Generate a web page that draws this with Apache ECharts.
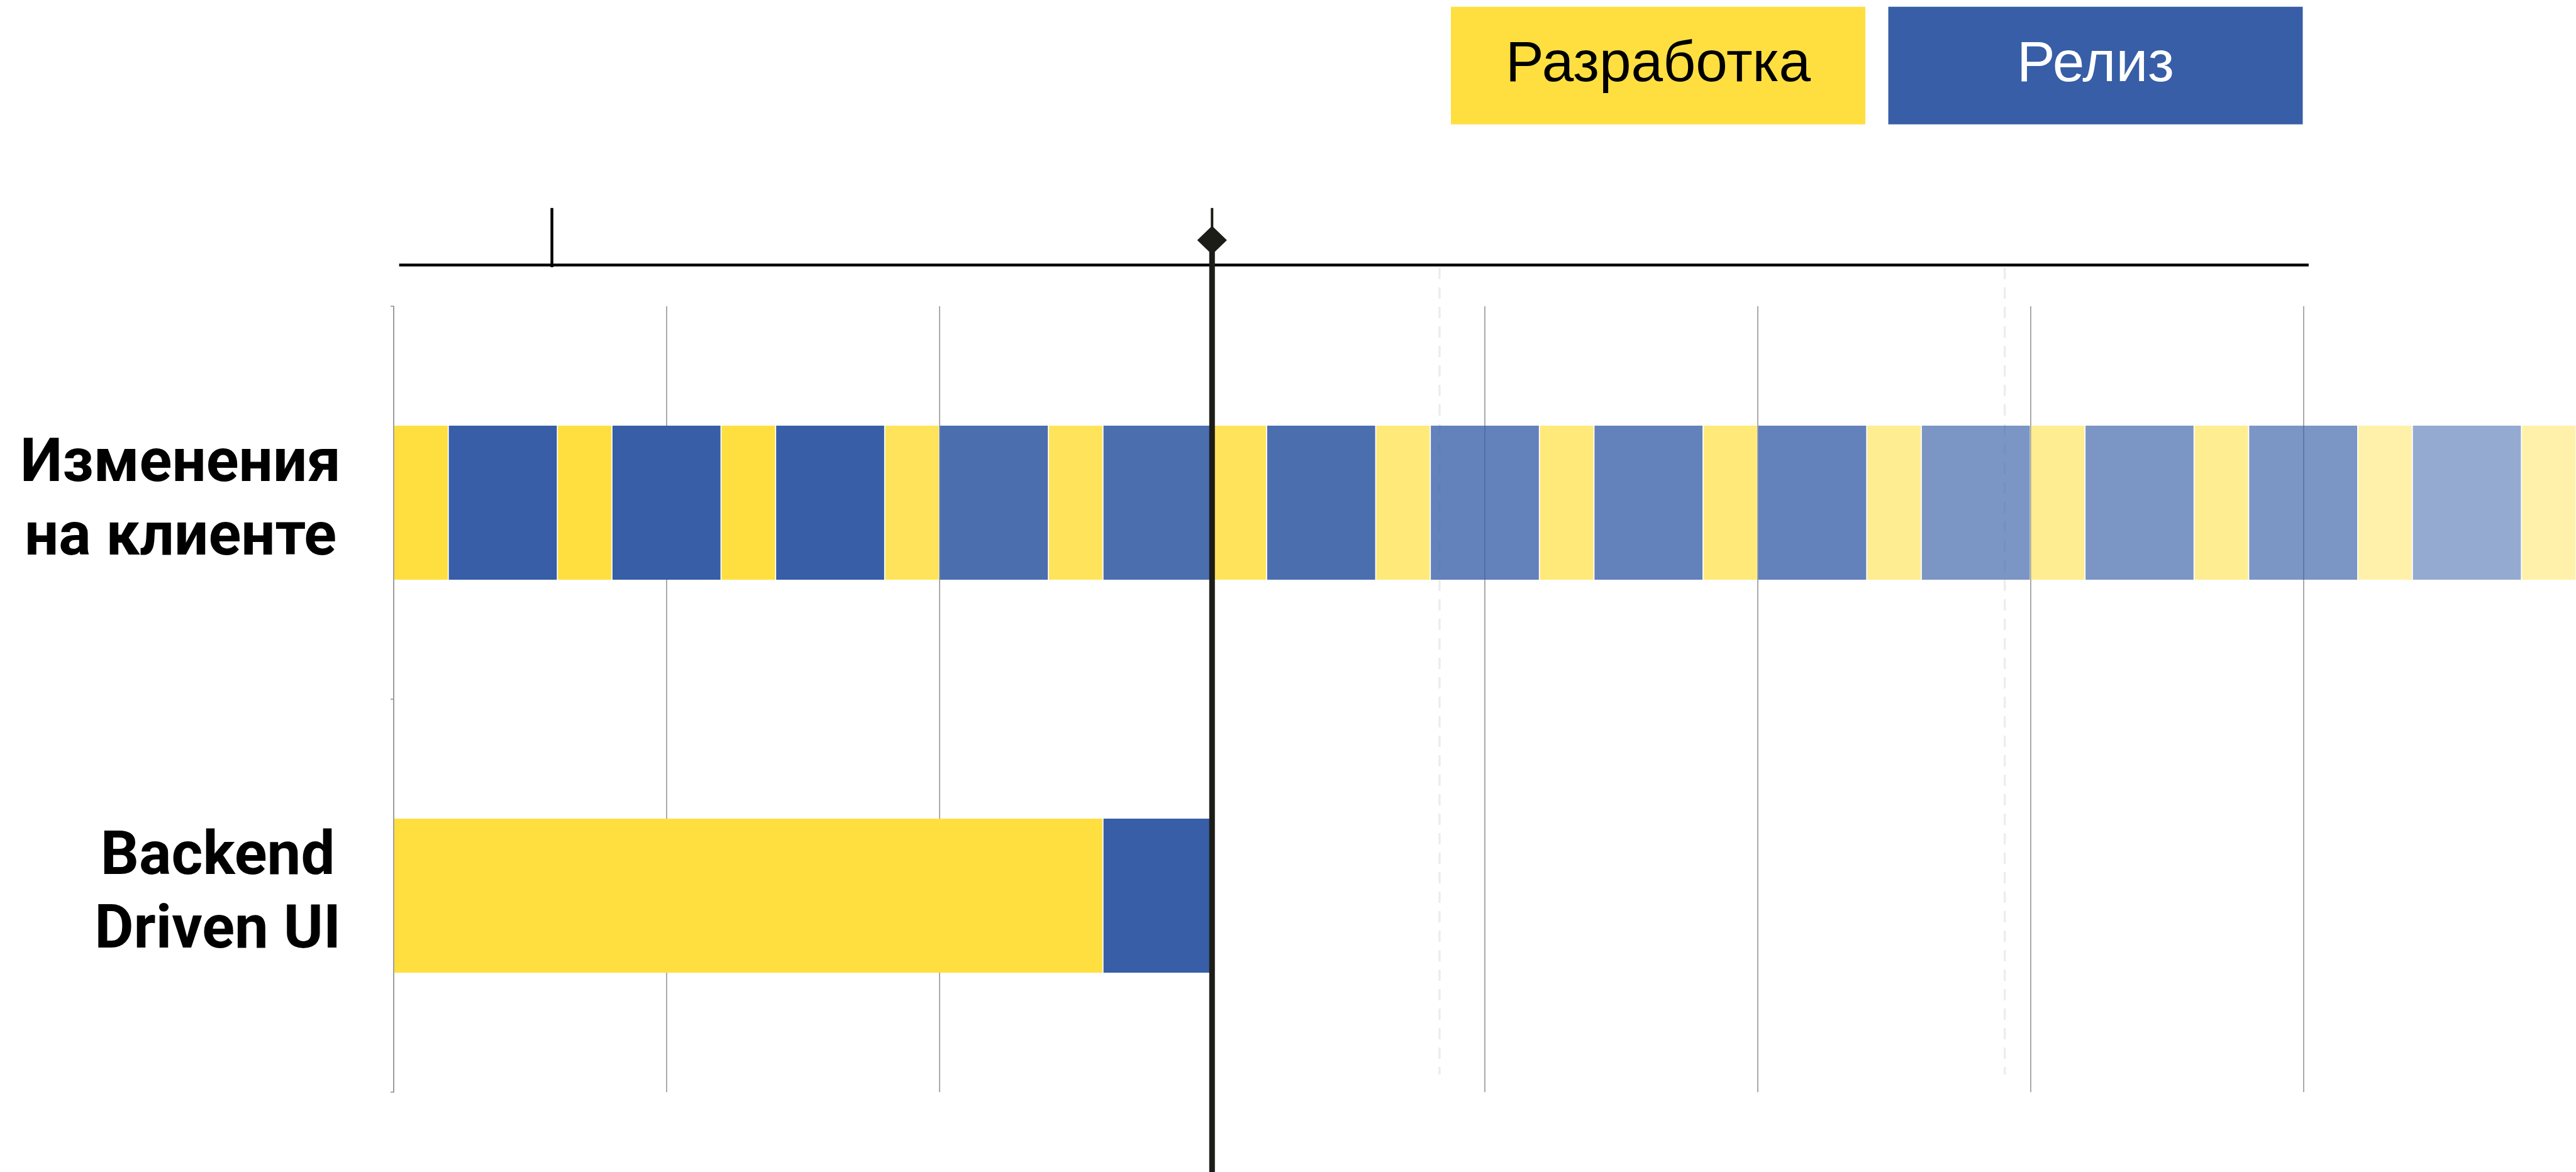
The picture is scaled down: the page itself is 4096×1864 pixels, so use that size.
<!DOCTYPE html>
<html>
<head>
<meta charset="utf-8">
<script src="https://cdn.jsdelivr.net/npm/echarts@6/dist/echarts.min.js"></script>
<style>
  html, body { margin: 0; padding: 0; background: #ffffff; }
  #chart { width: 4096px; height: 1864px; }
</style>
</head>
<body>
<div id="chart"></div>
<script>
// ---------- DATA ----------
const categories = ['Изменения\nна клиенте', 'Backend\nDriven UI'];
const seriesNames = ['Разработка', 'Релиз'];

// "Изменения на клиенте": development / release phases (weeks)
const clientDevStart = [0, 3, 6, 9, 12, 15, 18, 21, 24, 27, 30, 33, 36, 39];
const clientDevEnd   = [1, 4, 7, 10, 13, 16, 19, 22, 25, 28, 31, 34, 37, 40];
const clientDevFade  = [1, 1, 1, 0.86, 0.86, 0.86, 0.7, 0.7, 0.7, 0.57, 0.57, 0.57, 0.45, 0.45];
const clientRelStart = [1, 4, 7, 10, 13, 16, 19, 22, 25, 28, 31, 34, 37];
const clientRelEnd   = [3, 6, 9, 12, 15, 18, 21, 24, 27, 30, 33, 36, 39];
const clientRelFade  = [1, 1, 1, 0.9, 0.9, 0.9, 0.78, 0.78, 0.78, 0.66, 0.66, 0.66, 0.53];

// "Backend Driven UI"
const backendDevStart = [0];
const backendDevEnd   = [13];
const backendRelStart = [13];
const backendRelEnd   = [15];

// time scale decorations
const xMin = 0, xMax = 40, xInterval = 5;
const timelineSpan = [0.1, 35.1];
const timelineTicks = [2.9];
const nowMark = [15];
const dashedMarks = [19.17, 29.53];

// ---------- BUILD ----------
const devData = clientDevStart.map((s, i) => [0, s, clientDevEnd[i], clientDevFade[i]])
  .concat(backendDevStart.map((s, i) => [1, s, backendDevEnd[i], 1]));
const relData = clientRelStart.map((s, i) => [0, s, clientRelEnd[i], clientRelFade[i]])
  .concat(backendRelStart.map((s, i) => [1, s, backendRelEnd[i], 1]));

const YELLOW = '#FFDF40';
const BLUE = '#375EA6';
const GRID_GRAY = '#9b9b9b';
const DARK = '#1c1c18';

function barRenderer(color) {
  return function (params, api) {
    const row = api.value(0);
    const p0 = api.coord([api.value(1), row]);
    const p1 = api.coord([api.value(2), row]);
    const h = api.size([0, 1])[1] * 0.392;
    return {
      type: 'rect',
      shape: { x: p0[0] + 0.9, y: p0[1] - h / 2, width: p1[0] - p0[0] - 1.8, height: h },
      style: { fill: color, opacity: api.value(3) }
    };
  };
}

const chart = echarts.init(document.getElementById('chart'), null, { renderer: 'canvas' });

chart.setOption({
  animation: false,
  backgroundColor: '#ffffff',
  legend: {
    left: 2302,
    top: 10.75,
    padding: 0,
    itemWidth: 0,
    itemHeight: 0,
    itemGap: 31.5,
    icon: 'rect',
    selectedMode: false,
    data: seriesNames,
    formatter: function (name) {
      return (name === seriesNames[0] ? '{d|' : '{r|') + name + '}';
    },
    textStyle: {
      rich: {
        d: {
          width: 659, height: 187, lineHeight: 187, align: 'center', verticalAlign: 'middle',
          backgroundColor: YELLOW, color: '#000000',
          fontFamily: 'Liberation Sans', fontSize: 91
        },
        r: {
          width: 659, height: 187, lineHeight: 187, align: 'center', verticalAlign: 'middle',
          backgroundColor: BLUE, color: '#ffffff',
          fontFamily: 'Liberation Sans', fontSize: 91
        }
      }
    }
  },
  grid: { left: 626, top: 487, width: 3470, height: 1250, containLabel: false, outerBoundsMode: 'none' },
  xAxis: {
    type: 'value',
    min: xMin, max: xMax, interval: xInterval,
    axisLine: { show: false },
    axisTick: { show: false },
    axisLabel: { show: false },
    splitLine: { show: true, showMaxLine: false, lineStyle: { color: GRID_GRAY, width: 1.7 } }
  },
  yAxis: {
    type: 'category',
    data: categories,
    inverse: true,
    axisLine: { show: true, lineStyle: { color: GRID_GRAY, width: 1.7 } },
    axisTick: { show: true, length: 5, lineStyle: { color: GRID_GRAY, width: 1.7 } },
    splitLine: { show: false },
    axisLabel: {
      interval: 0,
      margin: 84,
      formatter: function (v) {
        return v.split('\n').map(l => '{a|' + l + '}').join('\n');
      },
      rich: {
        a: {
          fontFamily: 'Roboto', fontWeight: 'bold', fontSize: 96,
          lineHeight: 116.6, color: '#000000', align: 'center'
        }
      }
    }
  },
  series: [
    {
      name: 'dashed',
      type: 'custom',
      z: 1,
      clip: false,
      silent: true,
      encode: { x: 0 },
      data: dashedMarks.map(v => [v]),
      renderItem: function (params, api) {
        const x = api.coord([api.value(0), 0])[0];
        return {
          type: 'line',
          shape: { x1: x, y1: 426, x2: x, y2: 1709 },
          style: { stroke: '#ececec', lineWidth: 3.3, lineDash: [18, 13] }
        };
      }
    },
    {
      name: seriesNames[0],
      type: 'custom',
      z: 2,
      clip: false,
      itemStyle: { color: YELLOW },
      encode: { x: [1, 2], y: 0 },
      data: devData,
      renderItem: barRenderer(YELLOW)
    },
    {
      name: seriesNames[1],
      type: 'custom',
      z: 2,
      clip: false,
      itemStyle: { color: BLUE },
      encode: { x: [1, 2], y: 0 },
      data: relData,
      renderItem: barRenderer(BLUE)
    },
    {
      name: 'timeline',
      type: 'custom',
      z: 3,
      clip: false,
      silent: true,
      encode: { x: [0, 1] },
      data: [timelineSpan],
      renderItem: function (params, api) {
        const a = api.coord([api.value(0), 0])[0];
        const b = api.coord([api.value(1), 0])[0];
        return {
          type: 'line',
          shape: { x1: a, y1: 421.5, x2: b, y2: 421.5 },
          style: { stroke: '#000000', lineWidth: 4.4 }
        };
      }
    },
    {
      name: 'timelineTick',
      type: 'custom',
      z: 3,
      clip: false,
      silent: true,
      encode: { x: 0 },
      data: timelineTicks.map(v => [v]),
      renderItem: function (params, api) {
        const x = api.coord([api.value(0), 0])[0];
        return {
          type: 'line',
          shape: { x1: x, y1: 330.8, x2: x, y2: 425 },
          style: { stroke: '#000000', lineWidth: 4.5 }
        };
      }
    },
    {
      name: 'now',
      type: 'custom',
      z: 5,
      clip: false,
      silent: true,
      encode: { x: 0 },
      data: nowMark.map(v => [v]),
      renderItem: function (params, api) {
        const x = api.coord([api.value(0), 0])[0];
        const cy = 382, hw = 23.6, hh = 22.7;
        return {
          type: 'group',
          children: [
            { type: 'line', shape: { x1: x, y1: 330.8, x2: x, y2: cy }, style: { stroke: DARK, lineWidth: 4 } },
            { type: 'line', shape: { x1: x, y1: cy, x2: x, y2: 1880 }, style: { stroke: DARK, lineWidth: 9 } },
            { type: 'polygon', shape: { points: [[x, cy - hh], [x + hw, cy], [x, cy + hh], [x - hw, cy]] }, style: { fill: DARK } }
          ]
        };
      }
    }
  ]
});
</script>
</body>
</html>
